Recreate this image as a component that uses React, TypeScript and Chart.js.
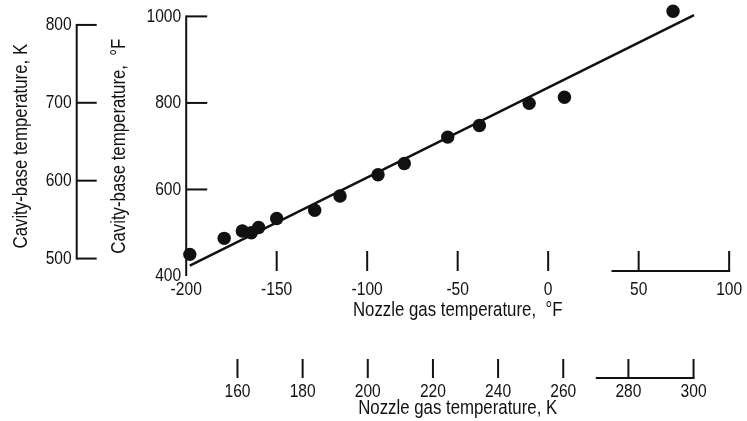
import React, { useEffect, useRef } from "react";
import { Chart, registerables } from "chart.js";

Chart.register(...registerables);

// ---- data ----
const nozzleF = [-198, -179, -169, -164, -160, -150, -129, -115, -94, -79.5, -55.5, -38, -10.5, 9, 69];
const cavityF = [450, 487, 504, 500, 512, 533, 552, 585, 634, 660, 721, 748, 799, 813, 1012];
const fitNozzleF = [-198, 80.6];
const fitCavityF = [424, 1003];

// ---- axes ----
const xFRange = [-200, 100];
const yFRange = [400, 1000];
const xFTicks = [-200, -150, -100, -50, 0, 50, 100];
const xFMarks = [-150, -100, -50, 0, 50, 100];
const xFRule = [35, 100];
const yFTicks = [400, 600, 800, 1000];
const yFMarks = [600, 800, 1000];
const xKTicks = [160, 180, 200, 220, 240, 260, 280, 300];
const xKRule = [270, 300];
const yKTicks = [500, 600, 700, 800];

const fToK = (f: number) => ((f - 32) * 5) / 9 + 273.15;

const INK = "#111";
const CONDENSE = 0.82; // narrow typeface look of the original
const FAMILY = '"Liberation Sans", Arial, sans-serif';
const tickFont = { family: FAMILY, size: 19, lineHeight: 1.2 };
const titleFont = { family: FAMILY, size: 20.5, lineHeight: 1.2 };

const setTicks = (values: number[]) => (scale: any) => {
  scale.ticks = values.map((v) => ({ value: v }));
};

const line = (ctx: CanvasRenderingContext2D, x1: number, y1: number, x2: number, y2: number) => {
  ctx.beginPath();
  ctx.moveTo(x1, y1);
  ctx.lineTo(x2, y2);
  ctx.stroke();
};

const narrowText = {
  id: "narrowText",
  beforeInit(chart: any) {
    const ctx = chart.ctx as CanvasRenderingContext2D;
    const orig = ctx.fillText.bind(ctx);
    (ctx as any).fillText = (text: string, x: number, y: number, maxWidth?: number) => {
      const w = ctx.measureText(text).width * CONDENSE;
      orig(text, x, y, maxWidth !== undefined ? Math.min(maxWidth, w) : w);
    };
  },
};

const axisMarks = {
  id: "axisMarks",
  afterDatasetsDraw(chart: any) {
    const { ctx, chartArea, scales } = chart;
    const xF = scales.x, yF = scales.y, xK = scales.xK, yK = scales.yK;
    ctx.save();
    ctx.strokeStyle = INK;
    ctx.lineWidth = 2;
    // main °F vertical axis
    const ax = xF.getPixelForValue(xFRange[0]);
    line(ctx, ax, yF.getPixelForValue(yFRange[1]) - 1, ax, yF.getPixelForValue(yFRange[0]));
    yFMarks.forEach((v) => {
      const y = yF.getPixelForValue(v);
      line(ctx, ax, y, ax + 21, y);
    });
    // K vertical axis
    const kx = yK.right;
    line(ctx, kx, yK.getPixelForValue(yKTicks[yKTicks.length - 1]) - 1, kx, yK.getPixelForValue(yKTicks[0]) + 1);
    yKTicks.forEach((v) => {
      const y = yK.getPixelForValue(v);
      line(ctx, kx, y, kx + 20, y);
    });
    // °F horizontal marks (inside plot, above labels)
    const b = chartArea.bottom;
    xFMarks.forEach((v) => {
      const x = xF.getPixelForValue(v);
      line(ctx, x, b - 25, x, b - 5);
    });
    line(ctx, xF.getPixelForValue(xFRule[0]), b - 5, xF.getPixelForValue(xFRule[1]) + 1, b - 5);
    // K horizontal marks
    const kt = xK.top;
    xKTicks.forEach((v) => {
      const x = xK.getPixelForValue(v);
      line(ctx, x, kt + 9, x, kt + 28);
    });
    line(ctx, xK.getPixelForValue(xKRule[0]), kt + 28, xK.getPixelForValue(xKRule[1]) + 1, kt + 28);
    ctx.restore();
  },
};

export default function App() {
  const ref = useRef<HTMLCanvasElement>(null);
  useEffect(() => {
    const chart = new Chart(ref.current as HTMLCanvasElement, {
      type: "scatter",
      data: {
        datasets: [
          {
            label: "Measured",
            data: nozzleF.map((x, i) => ({ x, y: cavityF[i] })),
            pointRadius: 6.7,
            pointBackgroundColor: INK,
            pointBorderWidth: 0,
            showLine: false,
            clip: false as any,
            xAxisID: "x",
            yAxisID: "y",
          },
          {
            label: "Fit",
            data: fitNozzleF.map((x, i) => ({ x, y: fitCavityF[i] })),
            pointRadius: 0,
            borderColor: INK,
            borderWidth: 2.5,
            showLine: true,
            clip: false as any,
            xAxisID: "x",
            yAxisID: "y",
          },
        ],
      },
      plugins: [narrowText, axisMarks],
      options: {
        animation: false,
        responsive: false,
        devicePixelRatio: 1,
        events: [],
        layout: { padding: { top: 15.3, right: 15, left: 0, bottom: 0 } },
        plugins: { legend: { display: false }, tooltip: { enabled: false } },
        scales: {
          x: {
            type: "linear",
            position: "bottom",
            weight: 0,
            min: xFRange[0],
            max: xFRange[1],
            afterBuildTicks: setTicks(xFTicks),
            afterFit: (s: any) => { s.height = 74; },
            grid: { display: false, drawTicks: false },
            border: { display: false },
            ticks: { font: tickFont, color: INK, padding: 2, autoSkip: false, maxRotation: 0, callback: (v: any) => String(v) },
            title: { display: true, text: "Nozzle gas temperature,  °F", font: titleFont, color: INK, padding: { top: 0, bottom: 27.7 } },
          },
          xK: {
            type: "linear",
            position: "bottom",
            weight: 1,
            min: fToK(xFRange[0]),
            max: fToK(xFRange[1]),
            afterBuildTicks: setTicks(xKTicks),
            afterFit: (s: any) => { s.height = 71; },
            grid: { display: false, drawTicks: false },
            border: { display: false },
            ticks: { font: tickFont, color: INK, padding: 30.6, autoSkip: false, maxRotation: 0, callback: (v: any) => String(v) },
            title: { display: true, text: "Nozzle gas temperature, K", font: titleFont, color: INK, padding: { top: 0, bottom: 0.7 } },
          },
          y: {
            type: "linear",
            position: "left",
            weight: 0,
            min: yFRange[0],
            max: yFRange[1],
            afterBuildTicks: setTicks(yFTicks),
            afterFit: (s: any) => { s.width = 109.5; },
            grid: { display: false, drawTicks: false },
            border: { display: false },
            ticks: { font: tickFont, color: INK, padding: 5, autoSkip: false, callback: (v: any) => String(v) },
            title: { display: true, text: "Cavity-base temperature,  °F", font: titleFont, color: INK, padding: { top: 30.2, bottom: 0 } },
          },
          yK: {
            type: "linear",
            position: "left",
            weight: 1,
            min: fToK(yFRange[0]),
            max: fToK(yFRange[1]),
            afterBuildTicks: setTicks(yKTicks),
            afterFit: (s: any) => { s.width = 76.7; },
            grid: { display: false, drawTicks: false },
            border: { display: false },
            ticks: { font: tickFont, color: INK, padding: 5, autoSkip: false, callback: (v: any) => String(v) },
            title: { display: true, text: "Cavity-base temperature, K", font: titleFont, color: INK, padding: { top: 8.7, bottom: 0 } },
          },
        },
      } as any,
    });
    return () => chart.destroy();
  }, []);
  return (
    <div style={{ position: "fixed", left: 0, top: 0, width: 747, height: 421, background: "#fff" }}>
      <canvas ref={ref} width={747} height={421} style={{ display: "block" }} />
    </div>
  );
}
